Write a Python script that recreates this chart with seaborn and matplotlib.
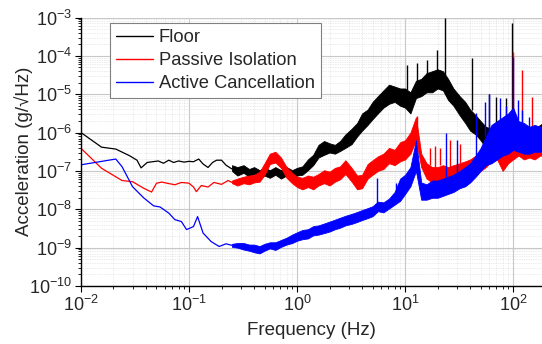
import numpy as np
import pandas as pd
import seaborn as sns
import matplotlib
matplotlib.use('Agg')
import matplotlib.pyplot as plt
from matplotlib.ticker import LogLocator, NullFormatter

# smooth low-frequency parts (freq in Hz, log10 of acceleration)
floor_f = [0.01, 0.0155, 0.021, 0.028, 0.033, 0.036, 0.041, 0.046, 0.052, 0.058, 0.065,
           0.072, 0.08, 0.09, 0.1, 0.11, 0.123, 0.135, 0.15, 0.165, 0.18, 0.2, 0.22, 0.25]
floor_log = [-6.0, -6.38, -6.43, -6.6, -6.72, -6.92, -6.78, -6.76, -6.74, -6.8, -6.72,
             -6.78, -6.74, -6.77, -6.75, -6.76, -6.69, -6.82, -6.91, -6.78, -6.72, -6.72, -6.85, -6.95]

passive_f = [0.01, 0.0155, 0.024, 0.03, 0.038, 0.045, 0.05, 0.056, 0.065, 0.074, 0.085,
             0.1, 0.11, 0.117, 0.13, 0.15, 0.17, 0.2, 0.23, 0.25]
passive_log = [-6.41, -6.93, -7.25, -7.28, -7.45, -7.55, -7.32, -7.29, -7.33, -7.36, -7.3,
               -7.32, -7.42, -7.54, -7.38, -7.42, -7.3, -7.35, -7.25, -7.3]

active_f = [0.01, 0.021, 0.024, 0.03, 0.038, 0.047, 0.054, 0.065, 0.074, 0.085, 0.095,
            0.11, 0.12, 0.135, 0.16, 0.19, 0.22, 0.25]
active_log = [-6.84, -6.69, -6.89, -7.41, -7.7, -7.91, -7.94, -8.1, -8.27, -8.32, -8.53,
              -8.45, -8.19, -8.62, -8.84, -8.97, -8.9, -8.94]

# noisy parts: lower / upper edge of the noise band at each frequency (log10)
band_f = [0.25, 0.28, 0.32, 0.36, 0.4, 0.45, 0.5, 0.56, 0.63, 0.71,
          0.8, 0.9, 1.0, 1.12, 1.26, 1.41, 1.58, 1.78, 2.0, 2.24,
          2.5, 2.8, 3.2, 3.6, 4.0, 4.5, 5.0, 5.6, 6.3, 7.1,
          8.0, 9.0, 10, 11.2, 12.6, 14.1, 15.8, 17.8, 20, 22.4,
          25, 28, 32, 36, 40, 45, 50, 56, 63, 71,
          80, 90, 100, 112, 126, 141, 158, 178, 200]

floor_lo = [-7.0, -7.12, -7.05, -7.15, -7.08, -7.2, -7.12, -7.18, -7.1, -7.2,
            -7.12, -7.2, -7.12, -7.1, -6.98, -6.85, -6.65, -6.58, -6.52, -6.55,
            -6.48, -6.4, -6.3, -6.1, -5.95, -5.8, -5.65, -5.5, -5.35, -5.25,
            -5.2, -5.3, -5.35, -5.5, -5.1, -5.05, -4.95, -4.95, -4.85, -4.9,
            -5.15, -5.3, -5.55, -5.75, -5.95, -6.05, -6.2, -6.4, -6.45, -6.4,
            -6.5, -6.35, -6.45, -6.5, -6.5, -6.4, -6.3, -6.2, -6.1]
floor_hi = [-6.85, -6.9, -6.85, -6.95, -6.9, -6.98, -6.92, -6.98, -6.9, -6.98,
            -6.9, -6.98, -6.92, -6.88, -6.7, -6.58, -6.32, -6.22, -6.28, -6.32,
            -6.22, -6.05, -5.9, -5.75, -5.5, -5.4, -5.2, -5.05, -4.9, -4.75,
            -4.8, -4.85, -4.85, -4.95, -4.65, -4.6, -4.45, -4.4, -4.35, -4.4,
            -4.6, -4.85, -5.05, -5.2, -5.4, -5.55, -5.7, -5.85, -5.9, -5.8,
            -5.9, -5.8, -5.85, -6.05, -6.1, -6.0, -5.9, -5.8, -5.7]

passive_lo = [-7.32, -7.38, -7.32, -7.35, -7.3, -7.28, -7.1, -6.82, -6.78, -6.92,
              -7.18, -7.32, -7.42, -7.48, -7.42, -7.48, -7.38, -7.32, -7.38, -7.28,
              -7.22, -7.08, -7.28, -7.48, -7.45, -7.2, -7.1, -7.0, -6.95, -6.8,
              -6.85, -6.75, -6.7, -6.55, -6.2, -6.9, -7.2, -7.3, -7.3, -7.25,
              -7.3, -7.25, -7.2, -7.15, -7.1, -7.05, -7.0, -6.9, -6.75, -6.7,
              -7.0, -6.8, -6.7, -6.6, -6.7, -6.65, -6.7, -6.6, -6.6]
passive_hi = [-7.25, -7.2, -7.15, -7.12, -7.1, -7.02, -6.8, -6.55, -6.5, -6.65,
              -6.9, -7.05, -7.15, -7.18, -7.12, -7.15, -7.08, -6.98, -7.02, -6.92,
              -6.88, -6.72, -6.92, -7.12, -7.1, -6.82, -6.72, -6.62, -6.55, -6.4,
              -6.45, -6.25, -6.2, -6.0, -5.6, -6.55, -6.8, -6.9, -6.9, -6.85,
              -6.9, -6.85, -6.8, -6.75, -6.7, -6.6, -6.6, -6.5, -6.35, -6.3,
              -6.6, -6.4, -6.3, -6.2, -6.3, -6.25, -6.3, -6.2, -6.2]

active_lo = [-8.98, -9.0, -9.05, -9.08, -9.12, -9.15, -9.08, -9.02, -9.06, -8.98,
             -8.92, -8.88, -8.82, -8.78, -8.76, -8.68, -8.66, -8.62, -8.58, -8.52,
             -8.48, -8.42, -8.38, -8.33, -8.28, -8.23, -8.18, -8.05, -8.08, -7.98,
             -7.88, -7.78, -7.6, -7.4, -7.0, -7.75, -7.75, -7.7, -7.7, -7.65,
             -7.6, -7.55, -7.45, -7.4, -7.3, -7.15, -7.0, -6.85, -6.8, -6.7,
             -6.6, -6.55, -6.45, -6.5, -6.55, -6.55, -6.5, -6.5, -6.45]
active_hi = [-8.9, -8.88, -8.88, -8.92, -8.92, -8.96, -8.9, -8.86, -8.86, -8.8,
             -8.74, -8.66, -8.6, -8.54, -8.52, -8.44, -8.42, -8.37, -8.32, -8.27,
             -8.22, -8.17, -8.12, -8.07, -8.02, -7.97, -7.92, -7.8, -7.82, -7.72,
             -7.55, -7.2, -7.1, -6.9, -6.2, -7.3, -7.35, -7.25, -7.25, -7.2,
             -7.15, -7.1, -7.0, -6.9, -6.8, -6.6, -6.4, -6.1, -5.8, -5.7,
             -5.6, -5.5, -5.35, -5.7, -5.75, -5.85, -5.8, -5.85, -5.8]

# narrow peaks: frequency, top, foot (log10)
floor_spike_f = [10.4, 12.8, 16, 19.6, 23.5, 42, 60, 70, 85, 98]
floor_spike_top = [-4.24, -4.19, -4.11, -3.85, -3.0, -4.06, -5.0, -5.06, -5.1, -3.15]
floor_spike_foot = [-4.9, -4.7, -4.5, -4.4, -4.5, -5.4, -5.9, -5.8, -5.85, -5.85]

passive_spike_f = [12.8, 17, 19, 21, 26, 32, 100, 120, 150]
passive_spike_top = [-5.58, -6.4, -6.35, -6.4, -6.2, -6.3, -3.89, -4.37, -5.06]
passive_spike_foot = [-6.0, -6.85, -6.9, -6.85, -6.9, -6.8, -6.3, -6.2, -6.25]

active_spike_f = [5.5, 8.3, 24, 30, 45, 55, 60, 75, 85, 100, 110, 120, 140]
active_spike_top = [-7.19, -7.32, -6.0, -6.2, -5.5, -5.2, -5.0, -5.1, -5.3, -4.02, -5.15, -5.4, -5.6]
active_spike_foot = [-7.9, -7.6, -7.15, -7.1, -6.6, -6.1, -6.0, -5.7, -5.6, -5.4, -5.7, -5.75, -5.85]

labels = ['Floor', 'Passive Isolation', 'Active Cancellation']
colors = ['#000000', '#ff0000', '#0000ff']

sns.set_theme(style='white')
plt.rcParams['font.family'] = ['Liberation Sans', 'DejaVu Sans']
plt.rcParams['mathtext.default'] = 'regular'

smooth = pd.concat([
    pd.DataFrame({'freq': floor_f, 'acc': 10 ** np.array(floor_log), 'series': labels[0]}),
    pd.DataFrame({'freq': passive_f, 'acc': 10 ** np.array(passive_log), 'series': labels[1]}),
    pd.DataFrame({'freq': active_f, 'acc': 10 ** np.array(active_log), 'series': labels[2]}),
])

fig = plt.figure(figsize=(5.42, 3.44), dpi=100)
ax = fig.add_axes([0.1494, 0.1686, 0.8506, 0.7805])

sns.lineplot(data=smooth, x='freq', y='acc', hue='series', palette=dict(zip(labels, colors)),
             estimator=None, sort=False, lw=0.9, ax=ax)

bands = [
    (floor_lo, floor_hi, floor_spike_f, floor_spike_top, floor_spike_foot),
    (passive_lo, passive_hi, passive_spike_f, passive_spike_top, passive_spike_foot),
    (active_lo, active_hi, active_spike_f, active_spike_top, active_spike_foot),
]
for i, (lo, hi, sf, st, sb) in enumerate(bands):
    ax.fill_between(band_f, 10 ** np.array(lo), 10 ** np.array(hi), color=colors[i],
                    lw=0.6, zorder=3 + i)
    ax.vlines(sf, 10 ** np.array(sb), 10 ** np.array(st), color=colors[i], lw=1.0, zorder=3 + i)

ax.set_xscale('log')
ax.set_yscale('log')
ax.set_xlim(0.01, 185)
ax.set_ylim(1e-10, 1e-3)

ax.xaxis.set_major_locator(LogLocator(base=10, numticks=20))
ax.yaxis.set_major_locator(LogLocator(base=10, numticks=20))
ax.xaxis.set_minor_locator(LogLocator(base=10, subs=np.arange(2, 10), numticks=40))
ax.yaxis.set_minor_locator(LogLocator(base=10, subs=np.arange(2, 10), numticks=40))
ax.xaxis.set_minor_formatter(NullFormatter())
ax.yaxis.set_minor_formatter(NullFormatter())

ax.grid(True, which='major', color='#c8c8c8', lw=0.8)
ax.grid(True, which='minor', color='#d8d8d8', lw=0.5, ls=(0, (1, 1.5)))
ax.set_axisbelow(True)

for s in ['top', 'right']:
    ax.spines[s].set_visible(False)
for s in ['left', 'bottom']:
    ax.spines[s].set_color('black')
    ax.spines[s].set_linewidth(1.0)

ax.tick_params(which='major', direction='out', length=4, width=0.8, color='black',
               labelsize=13, left=True, bottom=True, pad=2.5)
ax.tick_params(which='minor', direction='out', length=2.5, width=0.6, color='black',
               left=True, bottom=True)

ax.set_xlabel('Frequency (Hz)', fontsize=13.5)
ax.set_ylabel('Acceleration (g/\u221aHz)', fontsize=13.5)
ax.xaxis.set_label_coords(0.5, -0.135)
ax.yaxis.set_label_coords(-0.105, 0.5)

handles, lbls = ax.get_legend_handles_labels()
leg = ax.legend(handles, lbls, loc='upper left', bbox_to_anchor=(0.063, 0.98), fontsize=13.2,
                frameon=True, fancybox=False, edgecolor='#808080', framealpha=1,
                handlelength=2.0, labelspacing=0.32, borderpad=0.35, handletextpad=0.3,
                borderaxespad=0)
leg.get_frame().set_linewidth(0.8)
for h in leg.get_lines():
    h.set_linewidth(1.0)

fig.savefig('out.png', dpi=100)
